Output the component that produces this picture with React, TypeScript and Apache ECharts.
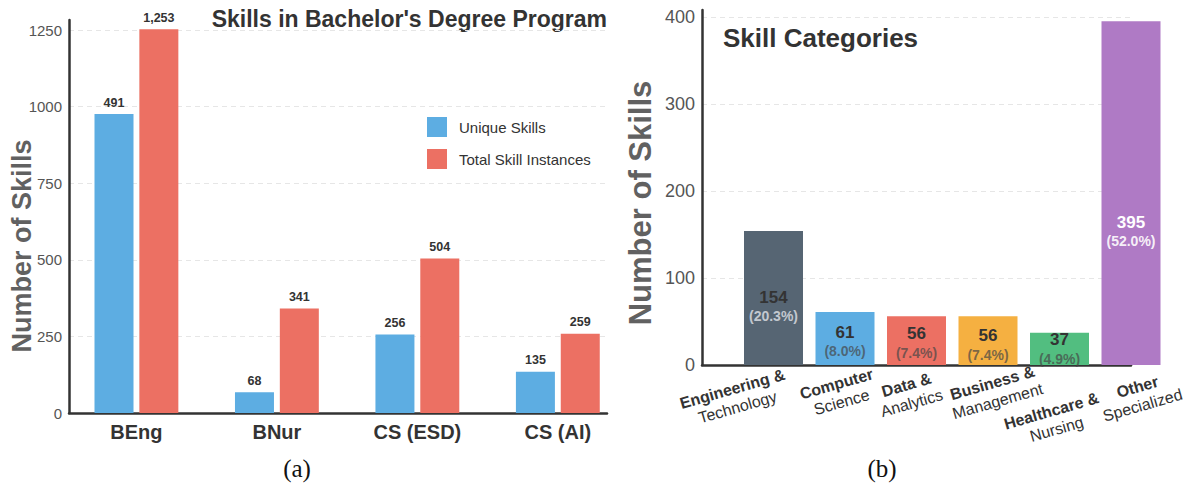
import React, { useEffect, useRef } from "react";
import * as echarts from "echarts";

// ---------- data (a) ----------
const programs = ["BEng", "BNur", "CS (ESD)", "CS (AI)"];
const uniqueBarHeights = [976, 68, 256, 135]; // bar heights as drawn in the reference
const uniqueLabels = [491, 68, 256, 135]; // numbers printed above the blue bars
const totalInstances = [1253, 341, 504, 259];
const yTicksA = { max: 1283, step: 250 };

// ---------- data (b) ----------
const catBold = ["Engineering &", "Computer", "Data &", "Business &", "Healthcare &", "Other"];
const catSub = ["Technology", "Science", "Analytics", "Management", "Nursing", "Specialized"];
const catCounts = [154, 61, 56, 56, 37, 395];
const catPercents = [20.3, 8.0, 7.4, 7.4, 4.9, 52.0];
const yTicksB = { max: 408, step: 100 };

// ---------- styles ----------
const FONT = "'Liberation Sans', Arial, Helvetica, sans-serif";
const SERIF = "'Liberation Serif', 'DejaVu Serif', serif";
const catColors = ["#566573", "#5DADE2", "#EC7063", "#F5B041", "#52BE80", "#AF7AC5"];
const numColors = ["#333333", "#333333", "#333333", "#333333", "#333333", "#ffffff"];
const pctColors = [
  "#c3c8cf",
  "rgba(70,70,70,0.7)",
  "rgba(70,70,70,0.7)",
  "rgba(70,70,70,0.7)",
  "rgba(70,70,70,0.7)",
  "rgba(255,255,255,0.9)",
];
const labelOffsetsB = [8, 3, 2, 4, 0, 38];
// centres of the rotated category labels of panel (b)
const catLabelPos = [
  [735, 398],
  [839, 393],
  [909, 394],
  [995, 392],
  [1054, 420],
  [1140, 396],
];

const axisLineStyle = { color: "#333333", width: 2.5 };
const gridLineStyle = { color: "#e6e6e6", width: 1, type: [5, 4] as any };

function buildOption() {
  const fmtA = (v: number) => {
    const r = Math.round(v);
    if (Math.abs(v - r) < 1e-6 && r >= 0 && r < programs.length) return programs[r];
    return "";
  };
  const barRich: any = {};
  catCounts.forEach((_, i) => {
    barRich[`n${i}`] = { fontSize: 17, fontWeight: "bold", color: numColors[i], lineHeight: 20, fontFamily: FONT };
    barRich[`p${i}`] = { fontSize: 14, fontWeight: "bold", color: pctColors[i], lineHeight: 18, fontFamily: FONT };
  });

  const catLabelGraphics = catBold.map((b, i) => ({
    type: "text",
    x: catLabelPos[i][0],
    y: catLabelPos[i][1],
    rotation: (16 * Math.PI) / 180,
    style: {
      text: `{b|${b}}\n{n|${catSub[i]}}`,
      align: "center",
      verticalAlign: "middle",
      rich: {
        b: { fontSize: 16, fontWeight: "bold", fill: "#333", lineHeight: 19, align: "center", fontFamily: FONT },
        n: { fontSize: 16, fill: "#333", lineHeight: 19, align: "center", fontFamily: FONT },
      },
    },
  }));

  return {
    animation: false,
    backgroundColor: "#ffffff",
    textStyle: { fontFamily: FONT },
    grid: [
      { left: 69, top: 20, width: 538, height: 393 },
      { left: 702, top: 10, width: 429, height: 355 },
    ],
    legend: {
      data: ["Unique Skills", "Total Skill Instances"],
      orient: "vertical",
      left: 427,
      top: 117,
      padding: 0,
      itemWidth: 20,
      itemHeight: 20,
      itemGap: 12,
      icon: "rect",
      textStyle: { fontSize: 15, color: "#333", fontFamily: FONT, padding: [0, 0, 0, 7] },
    },
    xAxis: [
      {
        gridIndex: 0,
        type: "value",
        min: -0.48,
        max: 3.35,
        interval: 0.04,
        axisLine: { show: true, onZero: false, lineStyle: axisLineStyle },
        axisTick: { show: false },
        splitLine: { show: false },
        axisLabel: {
          formatter: fmtA,
          fontSize: 20,
          fontWeight: "bold",
          color: "#333",
          margin: 9,
          fontFamily: FONT,
        },
      },
      {
        gridIndex: 1,
        type: "value",
        min: -1,
        max: 5,
        interval: 1,
        axisLine: { show: true, onZero: false, lineStyle: axisLineStyle },
        axisTick: { show: false },
        splitLine: { show: false },
        axisLabel: { show: false },
      },
    ],
    yAxis: [
      {
        gridIndex: 0,
        type: "value",
        min: 0,
        max: yTicksA.max,
        interval: yTicksA.step,
        axisLine: { show: true, onZero: false, lineStyle: axisLineStyle },
        axisTick: { show: false },
        axisLabel: {
          fontSize: 15,
          color: "#555",
          margin: 7,
          showMaxLabel: false,
          fontFamily: FONT,
          formatter: (v: number) => String(v),
        },
        splitLine: { show: true, lineStyle: gridLineStyle, showMinLine: false, showMaxLine: false },
      },
      {
        gridIndex: 1,
        type: "value",
        min: 0,
        max: yTicksB.max,
        interval: yTicksB.step,
        axisLine: { show: true, onZero: false, lineStyle: axisLineStyle },
        axisTick: { show: false },
        axisLabel: {
          fontSize: 18,
          color: "#555",
          margin: 7,
          showMaxLabel: false,
          fontFamily: FONT,
          formatter: (v: number) => String(v),
        },
        splitLine: { show: true, lineStyle: gridLineStyle, showMinLine: false, showMaxLine: false },
      },
    ],
    series: [
      {
        name: "Unique Skills",
        type: "bar",
        xAxisIndex: 0,
        yAxisIndex: 0,
        barWidth: 39,
        barGap: "15%",
        itemStyle: { color: "#5DADE2" },
        data: uniqueBarHeights.map((v, i) => [i, v]),
        label: {
          show: true,
          position: "top",
          distance: 5,
          fontSize: 12.5,
          fontWeight: "bold",
          color: "#333",
          fontFamily: FONT,
          formatter: (p: any) => uniqueLabels[p.dataIndex].toLocaleString("en-US"),
        },
      },
      {
        name: "Total Skill Instances",
        type: "bar",
        xAxisIndex: 0,
        yAxisIndex: 0,
        barWidth: 39,
        barGap: "15%",
        itemStyle: { color: "#EC7063" },
        data: totalInstances.map((v, i) => [i, v]),
        label: {
          show: true,
          position: "top",
          distance: 5,
          fontSize: 12.5,
          fontWeight: "bold",
          color: "#333",
          fontFamily: FONT,
          formatter: (p: any) => totalInstances[p.dataIndex].toLocaleString("en-US"),
        },
      },
      {
        name: "Skill Categories",
        type: "bar",
        xAxisIndex: 1,
        yAxisIndex: 1,
        barWidth: 59,
        clip: false,
        data: catCounts.map((v, i) => ({
          value: [i, v],
          itemStyle: { color: catColors[i] },
          label: { offset: [0, labelOffsetsB[i]] },
        })),
        label: {
          show: true,
          position: "inside",
          color: "#333",
          rich: barRich,
          formatter: (p: any) => {
            const i = p.dataIndex;
            return `{n${i}|${catCounts[i]}}\n{p${i}|(${catPercents[i].toFixed(1)}%)}`;
          },
        },
      },
    ],
    graphic: [
      {
        type: "text",
        x: 607,
        y: 18.5,
        style: {
          text: "Skills in Bachelor's Degree Program",
          fontSize: 23,
          fontWeight: "bold",
          fill: "#333",
          align: "right",
          verticalAlign: "middle",
          fontFamily: FONT,
        },
      },
      {
        type: "text",
        x: 723,
        y: 38,
        style: {
          text: "Skill Categories",
          fontSize: 26,
          fontWeight: "bold",
          fill: "#333",
          align: "left",
          verticalAlign: "middle",
          fontFamily: FONT,
        },
      },
      {
        type: "text",
        x: 22,
        y: 246,
        rotation: Math.PI / 2,
        style: {
          text: "Number of Skills",
          fontSize: 27,
          fontWeight: "bold",
          fill: "#616161",
          align: "center",
          verticalAlign: "middle",
          fontFamily: FONT,
        },
      },
      {
        type: "text",
        x: 640,
        y: 203,
        rotation: Math.PI / 2,
        style: {
          text: "Number of Skills",
          fontSize: 31,
          fontWeight: "bold",
          fill: "#616161",
          align: "center",
          verticalAlign: "middle",
          fontFamily: FONT,
        },
      },
      ...catLabelGraphics,
      {
        type: "text",
        x: 297,
        y: 468,
        style: { text: "(a)", fontSize: 25, fill: "#111", align: "center", verticalAlign: "middle", fontFamily: SERIF },
      },
      {
        type: "text",
        x: 882,
        y: 468,
        style: { text: "(b)", fontSize: 25, fill: "#111", align: "center", verticalAlign: "middle", fontFamily: SERIF },
      },
    ],
  };
}

export default function App() {
  const ref = useRef<HTMLDivElement>(null);
  useEffect(() => {
    if (!ref.current) return;
    const chart = echarts.init(ref.current, null, { renderer: "svg" });
    chart.setOption(buildOption() as any);
    return () => chart.dispose();
  }, []);
  return (
    <div
      ref={ref}
      style={{ position: "fixed", left: 0, top: 0, width: 1184, height: 488, background: "#ffffff" }}
    />
  );
}
